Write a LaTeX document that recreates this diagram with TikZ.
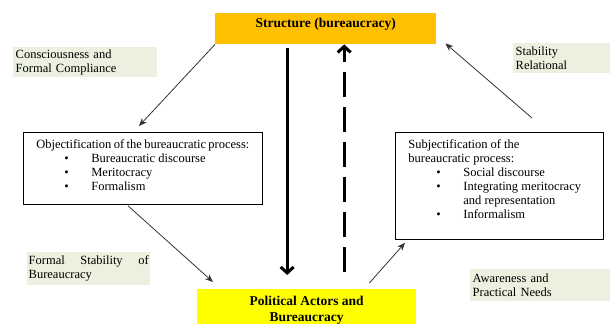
\documentclass[tikz,border=0pt]{standalone}
\usepackage{fontspec}
\setmainfont{Liberation Serif}
\usepackage{xcolor}
\usepackage{tikz}
\usetikzlibrary{arrows.meta, positioning, calc}
\definecolor{strucorange}{HTML}{FFC000}
\definecolor{actoryellow}{HTML}{FFFF00}
\definecolor{notegreen}{HTML}{EBF1DE}
\newcommand{\bul}{\makebox[55pt][l]{\hspace*{28pt}\textbullet}}
\tikzset{
  titleblock/.style={
    rectangle, draw=none, align=center, inner sep=0pt,
    font=\fontsize{13.5}{16}\selectfont\bfseries
  },
  listbox/.style={
    rectangle, draw=black, line width=0.8pt, fill=white,
    inner xsep=13pt, inner ysep=0pt, anchor=north west,
    font=\fontsize{12.5}{14}\selectfont
  },
  notebox/.style={
    rectangle, fill=notegreen, draw=none, align=left, anchor=north west,
    inner xsep=2.5pt, inner ysep=2pt, font=\fontsize{12.5}{14}\selectfont
  },
  arrow/.style={-{Stealth[length=8pt,width=6.5pt]}, line width=0.8pt, draw=black!80},
  bigarrow/.style={-{Straight Barb[length=6pt,width=13pt]}, line width=3pt, draw=black},
  dasharrow/.style={bigarrow, dash pattern=on 25pt off 10pt}
}
\begin{document}
\begin{tikzpicture}[x=1pt,y=1pt]
\useasboundingbox (0,0) rectangle (611,324);

\node[titleblock, fill=strucorange, anchor=north west, minimum width=221pt,
  text height=14pt, text depth=17pt] (structure) at (215,311) {Structure (bureaucracy)};
\node[titleblock, fill=actoryellow, anchor=north west, minimum width=219pt,
  minimum height=42pt] (actors) at (197,35) {Political Actors and\\Bureaucracy};

\node[listbox] (objbox) at (23,192) {\parbox[c][72pt][t]{213pt}{\vspace*{7pt}%
  Objectification of the bureaucratic process:\\
  \bul Bureaucratic discourse\\
  \bul Meritocracy\\
  \bul Formalism}};
\node[listbox] (subjbox) at (395,192) {\parbox[c][107pt][t]{182pt}{\vspace*{7pt}%
  Subjectification of the\\
  bureaucratic process:\\
  \bul Social discourse\\
  \bul Integrating meritocracy\\
  \hspace*{55pt}and representation\\
  \bul Informalism}};

% side notes
\node[notebox, minimum width=144pt, minimum height=30pt, text width=139pt] (consc) at (13,277)
  {Consciousness and\\Formal Compliance};
\node[notebox, minimum width=97pt, minimum height=30pt, text width=92pt] (stabrel) at (513,281)
  {Stability\\Relational};
\node[notebox, inner xsep=1.5pt, minimum width=123pt, minimum height=33pt, text width=120pt] (formal) at (27,72)
  {Formal\hfill Stability\hfill of\\Bureaucracy};
\node[notebox, minimum width=140pt, minimum height=32pt, text width=135pt] (aware) at (470,55)
  {Awareness and\\Practical Needs};

\draw[arrow] (structure.south west) -- ([xshift=116pt,yshift=6pt]objbox.north west);
\draw[arrow] ([xshift=105pt,yshift=-1pt]objbox.south west) -- ([xshift=16pt,yshift=7pt]actors.north west);
\draw[arrow] ([xshift=-47pt,yshift=6pt]actors.north east) -- ([xshift=10pt,yshift=-3pt]subjbox.south west);
\draw[arrow] ([xshift=137pt,yshift=14pt]subjbox.north west) -- ([xshift=9pt,yshift=1pt]structure.south east);

\draw[bigarrow] ([xshift=-38.5pt,yshift=-4pt]structure.south) -- ([xshift=-38.5pt,yshift=14pt]structure.south |- actors.north);
\draw[dasharrow] ([xshift=18.5pt,yshift=17pt]structure.south |- actors.north) -- ([xshift=18.5pt]structure.south);

\end{tikzpicture}
\end{document}
